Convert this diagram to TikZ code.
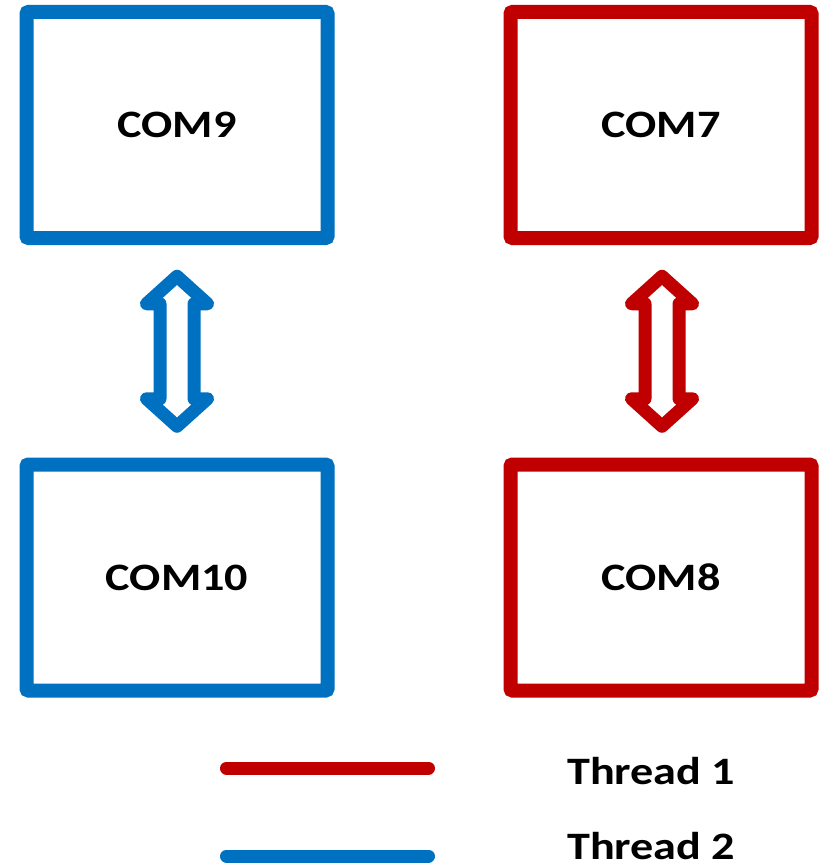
\documentclass[tikz,border=0pt]{standalone}
\usepackage{fontspec}
\newfontfamily\lblfont{Carlito}[FakeStretch=1.19]
\usetikzlibrary{calc}
\definecolor{tblue}{HTML}{0070C0}
\definecolor{tred}{HTML}{C00000}
\tikzset{
  combox/.style={draw=#1, line width=14pt, rounded corners=2pt, fill=white,
    minimum width=301pt, minimum height=226pt, inner sep=0pt,
    font=\lblfont\bfseries\fontsize{38.8}{44}\selectfont, text=black},
  hollowarrow/.style={draw=#1, fill=white, line width=13pt, line join=round},
  legline/.style={draw=#1, line width=13pt, line cap=round},
  legtext/.style={anchor=base west, inner sep=0pt,
    font=\lblfont\bfseries\fontsize{38.8}{44}\selectfont, text=black}
}
\begin{document}
\begin{tikzpicture}[x=1pt,y=-1pt]
\useasboundingbox (0,0) rectangle (821,864);
\node[combox=tblue] (c9)  at (177,125)   {COM9};
\node[combox=tblue] (c10) at (177,577.5) {COM10};
\node[combox=tred]  (c7)  at (661,125)   {COM7};
\node[combox=tred]  (c8)  at (661,577.5) {COM8};
% double arrows between boxes
\coordinate (m1) at ($(c9.south)!0.5!(c10.north)$);
\coordinate (m2) at ($(c7.south)!0.5!(c8.north)+(1,0)$);
\foreach \m/\c in {m1/tblue, m2/tred}{
  \draw[hollowarrow=\c, shift={(\m)}]
    (0,-75) -- (30.5,-47.5) -- (17,-47.5) -- (17,47.5) -- (30.5,47.5)
    -- (0,75) -- (-30.5,47.5) -- (-17,47.5) -- (-17,-47.5) -- (-30.5,-47.5)
    -- cycle;
}
% legend
\coordinate (r1) at (226.5,768);
\coordinate (r2) at (428.5,768);
\coordinate (b1) at (226.5,856);
\coordinate (b2) at (428.5,856);
\draw[legline=tred]  (r1) -- (r2);
\draw[legline=tblue] (b1) -- (b2);
\node[legtext] (t1) at (567,784) {Thread 1};
\node[legtext] (t2) at (567,859) {Thread 2};
\end{tikzpicture}
\end{document}
